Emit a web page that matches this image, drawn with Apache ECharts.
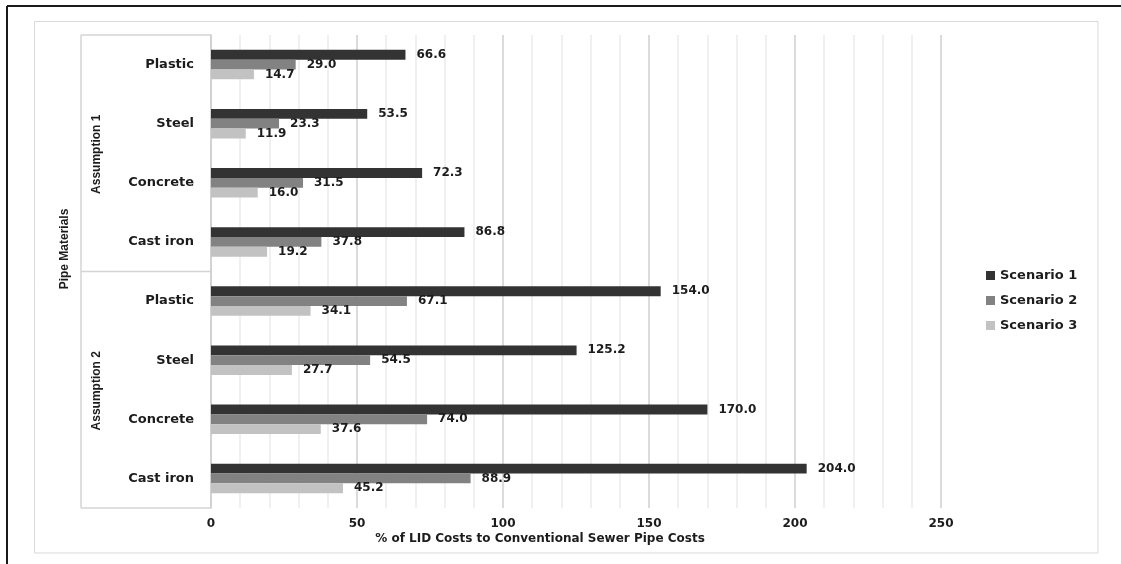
<!DOCTYPE html>
<html>
<head>
<meta charset="utf-8">
<title>LID vs conventional sewer pipe costs</title>
<script src="https://cdn.jsdelivr.net/npm/echarts@6/dist/echarts.min.js"></script>
<style>
  html, body { margin: 0; padding: 0; background: #ffffff; }
  #chart { width: 1121px; height: 564px; }
</style>
</head>
<body>
<div id="chart"></div>
<script>
// Pipe materials, top to bottom, grouped by cost assumption
const assumptions = ['Assumption 1', 'Assumption 2'];
const materials = ['Plastic', 'Steel', 'Concrete', 'Cast iron'];
const categoryKeys = ['A1|Plastic', 'A1|Steel', 'A1|Concrete', 'A1|Cast iron',
                      'A2|Plastic', 'A2|Steel', 'A2|Concrete', 'A2|Cast iron'];

// % of LID costs to conventional sewer pipe costs
const scenarioNames = ['Scenario 1', 'Scenario 2', 'Scenario 3'];
const scenario1 = [66.6, 53.5, 72.3, 86.8, 154.0, 125.2, 170.0, 204.0];
const scenario2 = [29.0, 23.3, 31.5, 37.8, 67.1, 54.5, 74.0, 88.9];
const scenario3 = [14.7, 11.9, 16.0, 19.2, 34.1, 27.7, 37.6, 45.2];

const xTicks = { min: 0, max: 250, interval: 50 };
const axisTitle = '% of LID Costs to Conventional Sewer Pipe Costs';
const groupTitle = 'Pipe Materials';

const colors = ['#333333', '#828282', '#c2c2c2'];
const FONT = "'DejaVu Sans', Verdana, sans-serif";
const NARROW = "'Liberation Sans', Arial, sans-serif";

const chart = echarts.init(document.getElementById('chart'), null, { renderer: 'canvas' });

const grid = { left: 211, right: 180, top: 35, bottom: 56 };
const gridTop = grid.top, gridBottom = 564 - grid.bottom;
const gridMid = (gridTop + gridBottom) / 2;
const bracketLeft = 81;

function barSeries(name, values, idx) {
  return {
    name: name,
    type: 'bar',
    data: values,
    barGap: '0%',
    barCategoryGap: '50%',
    itemStyle: { color: colors[idx] },
    label: {
      show: true,
      position: 'right',
      distance: 11,
      fontFamily: FONT,
      fontWeight: 'bold',
      fontSize: 12,
      color: '#1c1c1c',
      formatter: p => p.value.toFixed(1)
    },
    emphasis: { disabled: true }
  };
}

const line = (x1, y1, x2, y2, stroke, w) => ({
  type: 'line', silent: true,
  shape: { x1, y1, x2, y2 },
  style: { stroke, lineWidth: w }
});

const rotatedText = (text, x, y) => ({
  type: 'text', silent: true, x, y, rotation: Math.PI / 2,
  style: { text, fontFamily: NARROW, fontWeight: 'bold', fontSize: 12, fill: '#1c1c1c', align: 'center', verticalAlign: 'middle' }
});

const option = {
  backgroundColor: '#ffffff',
  animation: false,
  grid: grid,
  legend: {
    orient: 'vertical',
    left: 981,
    top: 263,
    itemWidth: 9,
    itemHeight: 9,
    itemGap: 10,
    icon: 'rect',
    data: scenarioNames,
    textStyle: { fontFamily: FONT, fontWeight: 'bold', fontSize: 13, color: '#1c1c1c', lineHeight: 15 }
  },
  xAxis: {
    type: 'value',
    min: xTicks.min,
    max: xTicks.max,
    interval: xTicks.interval,
    axisLine: { show: false },
    axisTick: { show: false },
    axisLabel: { fontFamily: FONT, fontWeight: 'bold', fontSize: 12, color: '#1c1c1c', margin: 10 },
    splitLine: { show: true, lineStyle: { color: '#cfcfcf', width: 1.5 } },
    minorTick: { show: false, splitNumber: 5 },
    minorSplitLine: { show: true, lineStyle: { color: '#ececec', width: 1.5 } }
  },
  yAxis: {
    type: 'category',
    inverse: true,
    data: categoryKeys,
    axisLine: { show: true, lineStyle: { color: '#cfcfcf', width: 1.5 } },
    axisTick: { show: false },
    axisLabel: {
      fontFamily: FONT, fontWeight: 'bold', fontSize: 13, color: '#1c1c1c', margin: 17,
      formatter: v => v.split('|')[1]
    },
    splitLine: { show: false }
  },
  series: [
    barSeries(scenarioNames[0], scenario1, 0),
    barSeries(scenarioNames[1], scenario2, 1),
    barSeries(scenarioNames[2], scenario3, 2)
  ],
  graphic: [
    // outer frame
    line(7, 6, 1121, 6, '#1a1a1a', 2),
    line(7, 6, 7, 564, '#1a1a1a', 2),
    // chart area border
    { type: 'rect', silent: true, shape: { x: 34.5, y: 21.5, width: 1063.5, height: 531.5 },
      style: { fill: null, stroke: '#d9d9d9', lineWidth: 1 } },
    // multi-level category brackets
    line(bracketLeft, gridTop, 211, gridTop, '#d4d4d4', 1.5),
    line(bracketLeft, gridMid, 211, gridMid, '#d4d4d4', 1.5),
    line(bracketLeft, gridBottom, 211, gridBottom, '#d4d4d4', 1.5),
    line(bracketLeft, gridTop, bracketLeft, gridBottom, '#d4d4d4', 1.5),
    rotatedText(assumptions[0], 97, (gridTop + gridMid) / 2 + 1),
    rotatedText(assumptions[1], 97, (gridMid + gridBottom) / 2 + 1),
    rotatedText(groupTitle, 65, 249),
    {
      type: 'text', silent: true, x: 540, y: 539,
      style: { text: axisTitle, fontFamily: FONT, fontWeight: 'bold', fontSize: 12, fill: '#1c1c1c', align: 'center', verticalAlign: 'middle' }
    }
  ]
};

chart.setOption(option);
</script>
</body>
</html>
